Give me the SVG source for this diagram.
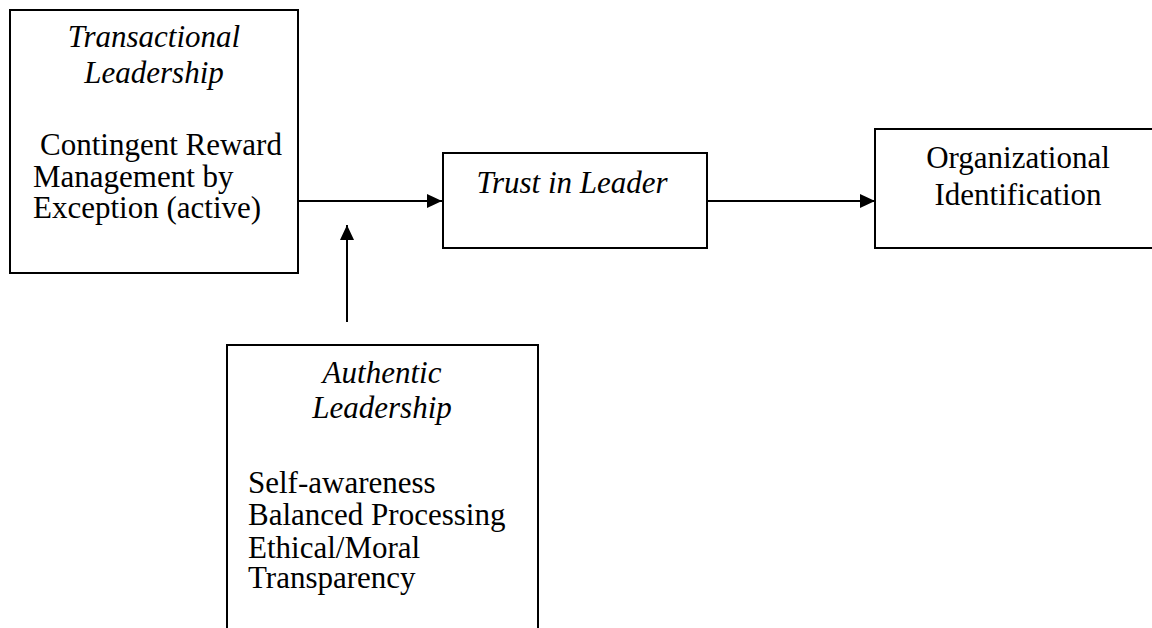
<svg xmlns="http://www.w3.org/2000/svg" width="1152" height="628" viewBox="0 0 1152 628">
<style>
.box{fill:#fff;stroke:#000;stroke-width:2}
.t{font-family:"Liberation Serif","Times New Roman",serif;font-size:31px;fill:#000}
.i{font-style:italic}
.c{text-anchor:middle}
.ln{stroke:#000;stroke-width:2;fill:none}
</style>
<defs>
<marker id="ah" markerWidth="16" markerHeight="14" refX="15" refY="7" orient="auto" markerUnits="userSpaceOnUse">
<path d="M0,0 L15,7 L0,14 Z" fill="#000"/>
</marker>
</defs>
<rect width="1152" height="628" fill="#fff"/>
<g id="connectors">
<line class="ln" x1="298" y1="201" x2="442" y2="201" marker-end="url(#ah)"/>
<line class="ln" x1="707" y1="201" x2="875" y2="201" marker-end="url(#ah)"/>
<line class="ln" x1="347" y1="322" x2="347" y2="225" marker-end="url(#ah)"/>
</g>
<g id="transactional">
<rect class="box" x="10" y="10" width="288" height="263"/>
<text class="t i c" x="154" y="47">Transactional</text>
<text class="t i c" x="154" y="83">Leadership</text>
<text class="t" x="40" y="155" font-size="29">Contingent Reward</text>
<text class="t" x="33" y="187">Management by</text>
<text class="t" x="33" y="218">Exception (active)</text>
</g>
<g id="trust">
<rect class="box" x="443" y="153" width="264" height="95"/>
<text class="t i c" x="572" y="193">Trust in Leader</text>
</g>
<g id="org">
<rect class="box" x="875" y="129" width="290" height="119"/>
<text class="t c" x="1018" y="168">Organizational</text>
<text class="t c" x="1018" y="205">Identification</text>
</g>
<g id="authentic">
<path class="ln" d="M227,640 L227,345 L538,345 L538,640"/>
<text class="t i c" x="382" y="383">Authentic</text>
<text class="t i c" x="382" y="418">Leadership</text>
<text class="t" x="248" y="493">Self-awareness</text>
<text class="t" x="248" y="525">Balanced Processing</text>
<text class="t" x="248" y="558">Ethical/Moral</text>
<text class="t" x="248" y="588">Transparency</text>
</g>
</svg>
